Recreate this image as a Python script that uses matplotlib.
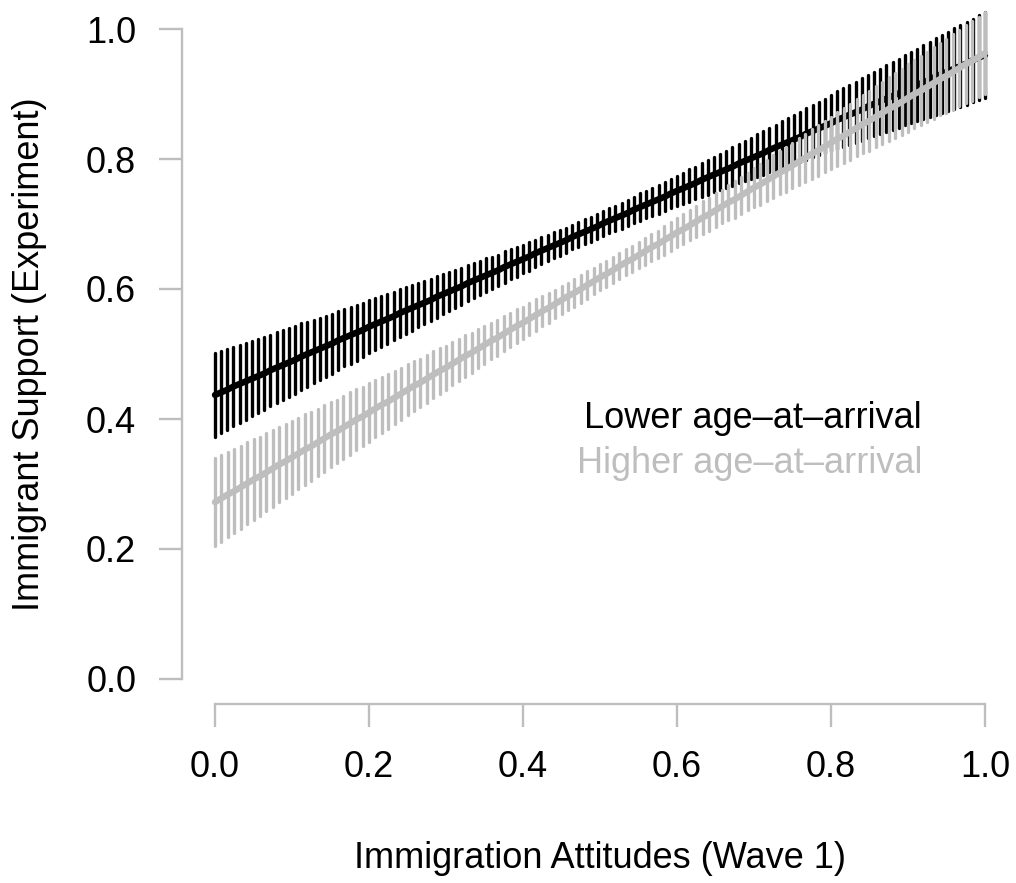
import numpy as np
import matplotlib
matplotlib.use("Agg")
import matplotlib.pyplot as plt

plt.rcParams['font.family'] = ['Liberation Sans', 'DejaVu Sans']

# ---------------- data ----------------
x_label = "Immigration Attitudes (Wave 1)"
y_label = "Immigrant Support (Experiment)"
series_names = ["Lower age\u2013at\u2013arrival", "Higher age\u2013at\u2013arrival"]
x_ticks = [0.0, 0.2, 0.4, 0.6, 0.8, 1.0]
y_ticks = [0.0, 0.2, 0.4, 0.6, 0.8, 1.0]
tick_labels = ["0.0", "0.2", "0.4", "0.6", "0.8", "1.0"]

# Lower age-at-arrival: evaluation points, predicted value, CI half-width
x_lower = [
    0.000, 0.008, 0.016, 0.024, 0.032, 0.040, 0.048, 0.056, 0.064, 0.072,
    0.080, 0.088, 0.096, 0.104, 0.112, 0.120, 0.128, 0.136, 0.144, 0.152,
    0.160, 0.168, 0.176, 0.184, 0.192, 0.200, 0.208, 0.216, 0.224, 0.232,
    0.240, 0.248, 0.256, 0.264, 0.272, 0.280, 0.288, 0.296, 0.304, 0.312,
    0.320, 0.328, 0.336, 0.344, 0.352, 0.360, 0.368, 0.376, 0.384, 0.392,
    0.400, 0.408, 0.416, 0.424, 0.432, 0.440, 0.448, 0.456, 0.464, 0.472,
    0.480, 0.488, 0.496, 0.504, 0.512, 0.520, 0.528, 0.536, 0.544, 0.552,
    0.560, 0.568, 0.576, 0.584, 0.592, 0.600, 0.608, 0.616, 0.624, 0.632,
    0.640, 0.648, 0.656, 0.664, 0.672, 0.680, 0.688, 0.696, 0.704, 0.712,
    0.720, 0.728, 0.736, 0.744, 0.752, 0.760, 0.768, 0.776, 0.784, 0.792,
    0.800, 0.808, 0.816, 0.824, 0.832, 0.840, 0.848, 0.856, 0.864, 0.872,
    0.880, 0.888, 0.896, 0.904, 0.912, 0.920, 0.928, 0.936, 0.944, 0.952,
    0.960, 0.968, 0.976, 0.984, 0.992, 1.000,
]
fit_lower = [
    0.437, 0.441, 0.445, 0.450, 0.454, 0.458, 0.462, 0.466, 0.470, 0.475,
    0.479, 0.483, 0.487, 0.491, 0.496, 0.500, 0.504, 0.508, 0.512, 0.516,
    0.521, 0.525, 0.529, 0.533, 0.537, 0.542, 0.546, 0.550, 0.554, 0.558,
    0.563, 0.567, 0.571, 0.575, 0.579, 0.583, 0.588, 0.592, 0.596, 0.600,
    0.604, 0.609, 0.613, 0.617, 0.621, 0.625, 0.629, 0.634, 0.638, 0.642,
    0.646, 0.650, 0.655, 0.659, 0.663, 0.667, 0.671, 0.675, 0.680, 0.684,
    0.688, 0.692, 0.696, 0.701, 0.705, 0.709, 0.713, 0.717, 0.722, 0.726,
    0.730, 0.734, 0.738, 0.742, 0.747, 0.751, 0.755, 0.759, 0.763, 0.768,
    0.772, 0.776, 0.780, 0.784, 0.788, 0.793, 0.797, 0.801, 0.805, 0.809,
    0.814, 0.818, 0.822, 0.826, 0.830, 0.834, 0.839, 0.843, 0.847, 0.851,
    0.855, 0.860, 0.864, 0.868, 0.872, 0.876, 0.881, 0.885, 0.889, 0.893,
    0.897, 0.901, 0.906, 0.910, 0.914, 0.918, 0.922, 0.927, 0.931, 0.935,
    0.939, 0.943, 0.947, 0.952, 0.956, 0.960,
]
ci_lower = [
    0.064, 0.063, 0.062, 0.061, 0.060, 0.059, 0.058, 0.057, 0.056, 0.055,
    0.055, 0.054, 0.053, 0.052, 0.051, 0.050, 0.049, 0.048, 0.047, 0.046,
    0.045, 0.044, 0.044, 0.043, 0.042, 0.041, 0.040, 0.039, 0.038, 0.037,
    0.037, 0.036, 0.035, 0.034, 0.033, 0.032, 0.032, 0.031, 0.030, 0.029,
    0.028, 0.028, 0.027, 0.026, 0.026, 0.025, 0.024, 0.024, 0.023, 0.023,
    0.022, 0.022, 0.021, 0.021, 0.020, 0.020, 0.020, 0.019, 0.019, 0.019,
    0.019, 0.019, 0.019, 0.019, 0.019, 0.019, 0.020, 0.020, 0.020, 0.021,
    0.021, 0.021, 0.022, 0.022, 0.023, 0.023, 0.024, 0.025, 0.025, 0.026,
    0.027, 0.027, 0.028, 0.029, 0.030, 0.030, 0.031, 0.032, 0.033, 0.034,
    0.034, 0.035, 0.036, 0.037, 0.038, 0.039, 0.040, 0.040, 0.041, 0.042,
    0.043, 0.044, 0.045, 0.046, 0.047, 0.048, 0.049, 0.049, 0.050, 0.051,
    0.052, 0.053, 0.054, 0.055, 0.056, 0.057, 0.058, 0.059, 0.060, 0.061,
    0.062, 0.063, 0.064, 0.064, 0.065, 0.066,
]

# Higher age-at-arrival
x_higher = [
    0.0000, 0.0083, 0.0167, 0.0250, 0.0333, 0.0417,
    0.0500, 0.0583, 0.0667, 0.0750, 0.0833, 0.0917,
    0.1000, 0.1083, 0.1167, 0.1250, 0.1333, 0.1417,
    0.1500, 0.1583, 0.1667, 0.1750, 0.1833, 0.1917,
    0.2000, 0.2083, 0.2167, 0.2250, 0.2333, 0.2417,
    0.2500, 0.2583, 0.2667, 0.2750, 0.2833, 0.2917,
    0.3000, 0.3083, 0.3167, 0.3250, 0.3333, 0.3417,
    0.3500, 0.3583, 0.3667, 0.3750, 0.3833, 0.3917,
    0.4000, 0.4083, 0.4167, 0.4250, 0.4333, 0.4417,
    0.4500, 0.4583, 0.4667, 0.4750, 0.4833, 0.4917,
    0.5000, 0.5083, 0.5167, 0.5250, 0.5333, 0.5417,
    0.5500, 0.5583, 0.5667, 0.5750, 0.5833, 0.5917,
    0.6000, 0.6083, 0.6167, 0.6250, 0.6333, 0.6417,
    0.6500, 0.6583, 0.6667, 0.6750, 0.6833, 0.6917,
    0.7000, 0.7083, 0.7167, 0.7250, 0.7333, 0.7417,
    0.7500, 0.7583, 0.7667, 0.7750, 0.7833, 0.7917,
    0.8000, 0.8083, 0.8167, 0.8250, 0.8333, 0.8417,
    0.8500, 0.8583, 0.8667, 0.8750, 0.8833, 0.8917,
    0.9000, 0.9083, 0.9167, 0.9250, 0.9333, 0.9417,
    0.9500, 0.9583, 0.9667, 0.9750, 0.9833, 0.9917,
    1.0000,
]
fit_higher = [
    0.272, 0.278, 0.284, 0.289, 0.295, 0.301,
    0.307, 0.312, 0.318, 0.324, 0.330, 0.335,
    0.341, 0.347, 0.353, 0.358, 0.364, 0.370,
    0.376, 0.381, 0.387, 0.393, 0.399, 0.404,
    0.410, 0.416, 0.422, 0.427, 0.433, 0.439,
    0.445, 0.451, 0.456, 0.462, 0.468, 0.474,
    0.479, 0.485, 0.491, 0.497, 0.502, 0.508,
    0.514, 0.520, 0.525, 0.531, 0.537, 0.543,
    0.548, 0.554, 0.560, 0.566, 0.571, 0.577,
    0.583, 0.589, 0.594, 0.600, 0.606, 0.612,
    0.618, 0.623, 0.629, 0.635, 0.641, 0.646,
    0.652, 0.658, 0.664, 0.669, 0.675, 0.681,
    0.687, 0.692, 0.698, 0.704, 0.710, 0.715,
    0.721, 0.727, 0.733, 0.738, 0.744, 0.750,
    0.756, 0.761, 0.767, 0.773, 0.779, 0.784,
    0.790, 0.796, 0.802, 0.808, 0.813, 0.819,
    0.825, 0.831, 0.836, 0.842, 0.848, 0.854,
    0.859, 0.865, 0.871, 0.877, 0.882, 0.888,
    0.894, 0.900, 0.905, 0.911, 0.917, 0.923,
    0.928, 0.934, 0.940, 0.946, 0.951, 0.957,
    0.963,
]
ci_higher = [
    0.068, 0.067, 0.066, 0.065, 0.064, 0.063,
    0.062, 0.061, 0.060, 0.059, 0.058, 0.057,
    0.056, 0.055, 0.054, 0.053, 0.052, 0.051,
    0.050, 0.049, 0.048, 0.048, 0.047, 0.046,
    0.045, 0.044, 0.043, 0.042, 0.041, 0.040,
    0.039, 0.038, 0.037, 0.037, 0.036, 0.035,
    0.034, 0.033, 0.032, 0.032, 0.031, 0.030,
    0.029, 0.028, 0.028, 0.027, 0.026, 0.026,
    0.025, 0.024, 0.024, 0.023, 0.023, 0.022,
    0.022, 0.021, 0.021, 0.021, 0.021, 0.020,
    0.020, 0.020, 0.020, 0.020, 0.020, 0.020,
    0.020, 0.021, 0.021, 0.021, 0.022, 0.022,
    0.022, 0.023, 0.023, 0.024, 0.025, 0.025,
    0.026, 0.026, 0.027, 0.028, 0.029, 0.029,
    0.030, 0.031, 0.032, 0.033, 0.033, 0.034,
    0.035, 0.036, 0.037, 0.038, 0.039, 0.039,
    0.040, 0.041, 0.042, 0.043, 0.044, 0.045,
    0.046, 0.047, 0.048, 0.049, 0.050, 0.051,
    0.052, 0.052, 0.053, 0.054, 0.055, 0.056,
    0.057, 0.058, 0.059, 0.060, 0.061, 0.062,
    0.063,
]

# ---------------- styling ----------------
BLACK = "#000000"
GREY = "#BEBEBE"
AXIS_GREY = "#BEBEBE"
FS = 26

W, H = 1016, 883
fig = plt.figure(figsize=(W / 100, H / 100), dpi=100)
# axes box in pixels: left 182, bottom spine at 704 px from top
ax = fig.add_axes([182 / W, (H - 704) / H, 834 / W, 704 / H])
ax.set_xlim(-33 / 770, 1 + 31 / 770)
ax.set_ylim(-25 / 650, 1 + 29 / 650)

def draw_series(x, fit, ci, color):
    x = np.asarray(x)
    fit = np.asarray(fit)
    ci = np.asarray(ci)
    lc = ax.vlines(x, fit - ci, fit + ci, colors=color, linewidth=2.4, clip_on=False)
    lc.set_capstyle("round")
    ax.plot(x, fit, color=color, linewidth=4.6, solid_capstyle="round", clip_on=False)

draw_series(x_lower, fit_lower, ci_lower, BLACK)
draw_series(x_higher, fit_higher, ci_higher, GREY)

# axes
for s in ["top", "right"]:
    ax.spines[s].set_visible(False)
for s in ["left", "bottom"]:
    ax.spines[s].set_color(AXIS_GREY)
    ax.spines[s].set_linewidth(1.7)
ax.spines["left"].set_bounds(0, 1)
ax.spines["bottom"].set_bounds(0, 1)

ax.set_xticks(x_ticks)
ax.set_xticklabels(tick_labels)
ax.set_yticks(y_ticks)
ax.set_yticklabels(tick_labels)
ax.tick_params(direction="out", length=16.5, width=1.7, color=AXIS_GREY,
               pad=16.5, labelsize=FS, labelcolor="black")

# axis labels
fig.text(600 / W, 1 - 858 / H, x_label, fontsize=FS, ha="center", va="center")
fig.text(30 / W, 1 - 354 / H, y_label, fontsize=FS, ha="center", va="center",
         rotation=90)

# legend text
fig.text(922 / W, 1 - 428 / H, series_names[0], fontsize=FS, color=BLACK,
         ha="right", va="baseline")
fig.text(922 / W, 1 - 473 / H, series_names[1], fontsize=FS, color=GREY,
         ha="right", va="baseline")

fig.savefig("out.png", dpi=100)
